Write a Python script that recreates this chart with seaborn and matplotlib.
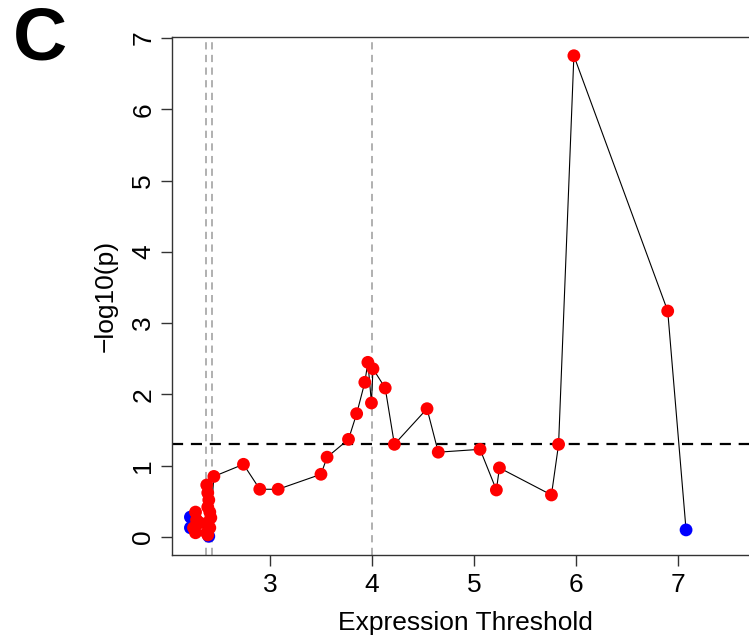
import seaborn as sns
import matplotlib
matplotlib.use('Agg')
import matplotlib.pyplot as plt
import pandas as pd

# Expression threshold vs -log10(p)
threshold = [2.22, 2.22, 2.25, 2.27, 2.27, 2.28, 2.31,
             2.38, 2.38, 2.39, 2.39, 2.39, 2.39, 2.40, 2.40, 2.41, 2.41, 2.42, 2.45,
             2.74, 2.90, 3.08, 3.50, 3.56, 3.77, 3.85, 3.93, 3.96, 3.995, 4.01,
             4.13, 4.22, 4.54, 4.65, 5.06, 5.22, 5.25, 5.76, 5.83, 5.98, 6.90, 7.08]
neglog_p = [0.28, 0.13, 0.13, 0.06, 0.35, 0.24, 0.20,
            0.06, 0.73, 0.03, 0.62, 0.42, 0.20, 0.01, 0.52, 0.35, 0.13, 0.27, 0.85,
            1.02, 0.67, 0.67, 0.88, 1.12, 1.37, 1.73, 2.17, 2.45, 1.88, 2.36,
            2.09, 1.30, 1.80, 1.19, 1.23, 0.66, 0.97, 0.59, 1.30, 6.75, 3.17, 0.10]
group = ['blue', 'blue', 'red', 'red', 'red', 'red', 'red',
         'red', 'red', 'red', 'red', 'red', 'red', 'blue', 'red', 'red', 'red', 'red', 'red',
         'red', 'red', 'red', 'red', 'red', 'red', 'red', 'red', 'red', 'red', 'red',
         'red', 'red', 'red', 'red', 'red', 'red', 'red', 'red', 'red', 'red', 'red', 'blue']

cutoffs = [2.37, 2.43, 4.0]
sig_line = 1.30103  # -log10(0.05)

df = pd.DataFrame({'threshold': threshold, 'neglog_p': neglog_p, 'group': group})
# blue points drawn first so red sits on top, like the original
df_pts = pd.concat([df[df.group == 'blue'], df[df.group == 'red']])

sns.set_theme(style='ticks')
plt.rcParams['font.family'] = ['Liberation Sans', 'DejaVu Sans']
plt.rcParams['text.color'] = 'black'
plt.rcParams['axes.labelcolor'] = 'black'

fig = plt.figure(figsize=(7.49, 6.42), dpi=100)
ax = fig.add_axes([0.2296, 0.1355, 0.7844, 0.8069])

for c in cutoffs:
    ax.axvline(c, color='#aaaaaa', lw=1.3, ls=(0, (4, 3)), zorder=1)
ax.axhline(sig_line, color='black', lw=1.6, ls=(0, (5, 3.5)), zorder=1)

sns.lineplot(data=df, x='threshold', y='neglog_p', sort=False, estimator=None,
             color='black', lw=0.8, ax=ax, zorder=2)
sns.scatterplot(data=df_pts, x='threshold', y='neglog_p', hue='group',
                palette={'red': '#ff0000', 'blue': '#0000ff'},
                s=85, linewidth=0, legend=False, ax=ax, zorder=3)

ax.set_xlim(2.039, 7.8)
ax.set_ylim(-0.252, 7.013)
ax.set_xticks([3, 4, 5, 6, 7])
ax.set_yticks(range(8))
ax.tick_params(axis='both', direction='out', length=8, width=1, color='#333333',
               labelsize=19, labelcolor='black')
ax.tick_params(axis='x', pad=5)
ax.tick_params(axis='y', pad=4)
for lab in ax.get_yticklabels():
    lab.set_rotation(90)
    lab.set_va('center')
for sp in ax.spines.values():
    sp.set_visible(True)
    sp.set_color('#333333')
    sp.set_linewidth(1)

ax.set_xlabel('Expression Threshold', fontsize=19, labelpad=10)
ax.set_ylabel('\u2212log10(p)', fontsize=19, labelpad=10)

fig.text(0.053, 0.937, 'C', fontsize=54, fontweight='bold', ha='center', va='center',
         color='black')

fig.savefig('out.png', dpi=100)
